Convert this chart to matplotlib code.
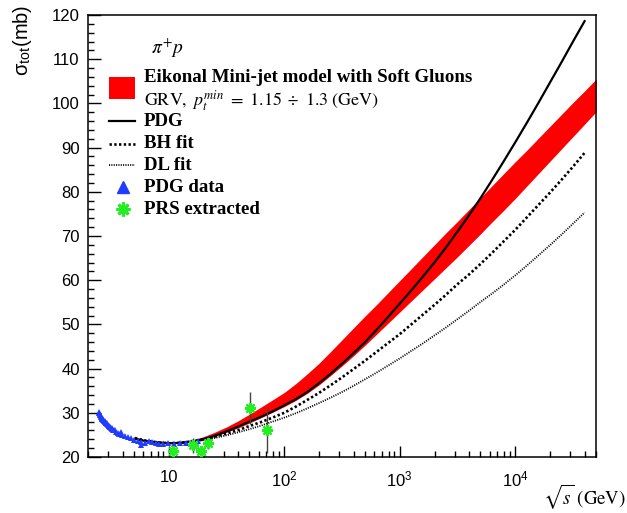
import numpy as np
import matplotlib
matplotlib.use('Agg')
import matplotlib.pyplot as plt
from matplotlib.lines import Line2D
from matplotlib.patches import Rectangle
from matplotlib.ticker import FixedLocator, NullFormatter, MultipleLocator

plt.rcParams['font.family'] = ['Liberation Sans', 'DejaVu Sans']
plt.rcParams['mathtext.fontset'] = 'stix'

# PDG fit (solid black), sqrt(s) in GeV, sigma in mb
pdg_x = [5.1, 6.3, 7.9, 10, 12.6, 15.8, 20, 25, 31.6, 40, 50, 63, 79, 100, 126, 158, 200, 251,
         316, 398, 501, 631, 794, 1000, 1259, 1585, 1995, 2512, 3162, 3981, 5012, 6310, 7943,
         10000, 12589, 15849, 19953, 25119, 31623, 39811]
pdg_y = [24.1, 23.6, 23.3, 23.1, 23.2, 23.5, 24.0, 24.8, 25.8, 26.9, 28.0, 29.1, 30.3, 31.7,
         33.1, 34.7, 36.7, 38.8, 41.1, 43.5, 46.0, 48.8, 51.7, 54.7, 57.7, 60.8, 64.0, 67.4,
         71.0, 74.7, 78.6, 82.7, 86.9, 91.2, 95.6, 100.1, 104.7, 109.3, 114.0, 118.6]

# eikonal mini-jet band (lower / upper edge)
band_x = [10, 12.6, 15.8, 20, 25, 31.6, 40, 50, 63, 79, 100, 126, 158, 200, 251, 316, 398, 501,
          631, 794, 1000, 1259, 1585, 1995, 2512, 3162, 3981, 5012, 6310, 7943, 10000, 12589,
          15849, 19953, 25119, 31623, 39811, 50119]
band_lo = [23.0, 23.2, 23.5, 24.0, 24.7, 25.6, 26.6, 27.7, 28.9, 30.1, 31.4, 32.8, 34.4, 36.3,
           38.4, 40.6, 42.9, 45.3, 47.8, 50.3, 52.8, 55.3, 57.8, 60.3, 62.8, 65.3, 67.9, 70.5,
           73.2, 75.8, 78.5, 81.3, 84.1, 86.9, 89.7, 92.5, 95.3, 98.1]
band_hi = [23.1, 23.4, 23.8, 24.6, 25.6, 26.8, 28.2, 29.7, 31.3, 32.9, 34.6, 36.6, 38.8, 41.2,
           43.8, 46.5, 49.2, 51.9, 54.5, 57.2, 59.9, 62.6, 65.3, 68.0, 70.7, 73.3, 76.0, 78.7,
           81.4, 84.1, 86.8, 89.4, 92.1, 94.8, 97.5, 100.2, 102.8, 105.5]

# BH fit (dashed)
bh_x = [5.1, 6.3, 7.9, 10, 12.6, 15.8, 20, 25, 31.6, 40, 50, 63, 79, 100, 126, 158, 200, 251,
        316, 398, 501, 631, 794, 1000, 1259, 1585, 1995, 2512, 3162, 3981, 5012, 6310, 7943,
        10000, 12589, 15849, 19953, 25119, 31623, 39811]
bh_y = [24.3, 23.7, 23.3, 23.1, 23.2, 23.5, 24.0, 24.6, 25.3, 26.1, 27.0, 27.9, 28.9, 30.0,
        31.4, 32.9, 34.5, 36.2, 38.0, 39.9, 41.8, 43.8, 45.8, 47.8, 50.0, 52.2, 54.4, 56.7,
        59.1, 61.3, 63.7, 66.2, 68.8, 71.4, 74.2, 77.0, 79.8, 82.7, 85.7, 88.8]

# DL fit (dotted)
dl_x = bh_x
dl_y = [24.2, 23.7, 23.4, 23.2, 23.2, 23.4, 23.8, 24.3, 24.9, 25.6, 26.3, 27.1, 28.0, 28.9,
        29.9, 31.0, 32.2, 33.4, 34.7, 36.1, 37.6, 39.1, 40.7, 42.3, 44.0, 45.7, 47.5, 49.3,
        51.2, 53.1, 55.1, 57.0, 59.0, 61.1, 63.3, 65.6, 67.9, 70.3, 72.8, 75.3]

# PDG data points
data_x = [2.49, 2.51, 2.53, 2.55, 2.57, 2.60, 2.62, 2.65, 2.67, 2.70, 2.72, 2.75, 2.78, 2.81, 2.84,
          2.87, 2.90, 2.94, 2.97, 3.01, 3.04, 3.08, 3.12, 3.16, 3.20, 3.25, 3.30, 3.35, 3.40, 3.50,
          3.62, 3.70, 3.84, 3.95, 4.15, 4.40, 4.70, 5.0, 5.4, 5.75, 5.8, 6.2, 6.7, 7.2, 7.7, 8.3,
          9.0, 9.8, 11.0, 12.5, 14.0, 16.0, 18.0]
data_y = [30.2, 29.9, 29.8, 29.4, 29.2, 29.0, 28.9, 28.7, 28.6, 28.5, 28.4, 28.2, 28.1, 27.9, 27.8,
          27.7, 27.6, 27.4, 27.3, 27.1, 27.0, 26.9, 26.8, 26.6, 26.5, 26.3, 26.2, 26.1, 26.0, 25.7,
          25.5, 25.3, 25.6, 25.0, 24.8, 24.5, 24.2, 23.9, 23.6, 22.7, 23.4, 23.2, 23.6, 23.3, 23.1, 23.0,
          23.0, 23.1, 23.0, 23.1, 23.2, 23.4, 23.6]

# PRS extracted points
prs_x = [10.9, 16.2, 19.0, 21.9, 50.4, 70.5]
prs_y = [21.4, 22.7, 21.4, 23.2, 31.1, 26.0]
prs_err = [1.6, 1.7, 1.0, 1.4, 3.6, 5.0]

W, H = 627, 513
fig = plt.figure(figsize=(W / 100, H / 100), dpi=100)
ax = fig.add_axes([88 / W, (H - 457) / H, 508 / W, 442 / H])

BH_LS = (0, (0.9, 0.9))
DL_LS = (0, (0.6, 0.7))

ax.fill_between(band_x, band_lo, band_hi, color='#ff0000', lw=0, zorder=2)
ax.plot(dl_x, dl_y, color='black', lw=1.3, ls=DL_LS, zorder=3)
ax.plot(bh_x, bh_y, color='black', lw=1.9, ls=BH_LS, zorder=3)
ax.plot(pdg_x, pdg_y, color='black', lw=1.6, zorder=4)
ax.plot(data_x, data_y, ls='none', marker='^', ms=4, color='#1f3cff', mew=0, zorder=5)
ax.errorbar(prs_x, prs_y, yerr=prs_err, fmt='none', ecolor='#444444', elinewidth=1.0, zorder=5)
ax.plot(prs_x, prs_y, ls='none', marker=(8, 2, 0), ms=8, mew=1.6, color='#22ee22', zorder=6)

ax.set_xscale('log')
ax.set_xlim(2, 5e4)
ax.set_ylim(20, 120)

ax.xaxis.set_major_locator(FixedLocator([10, 100, 1000, 10000]))
ax.set_xticklabels(['10', r'$\mathregular{10^{2}}$', r'$\mathregular{10^{3}}$', r'$\mathregular{10^{4}}$'])
minor = [m * 10 ** e for e in range(0, 5) for m in range(2, 10) if 2 <= m * 10 ** e <= 5e4]
ax.xaxis.set_minor_locator(FixedLocator(minor))
ax.xaxis.set_minor_formatter(NullFormatter())
ax.yaxis.set_major_locator(MultipleLocator(10))
ax.yaxis.set_minor_locator(MultipleLocator(2))

ax.tick_params(which='both', direction='in', top=False, right=False, labelsize=12, width=1.0)
ax.tick_params(axis='x', which='major', length=8, pad=9)
ax.tick_params(axis='y', which='major', length=9, pad=6)
ax.tick_params(which='minor', length=4.5)
for s in ax.spines.values():
    s.set_linewidth(1.1)

fig.text(22 / W, 1 - 5 / H, r'σ$_{\mathregular{tot}}$(mb)', rotation=90, ha='center', va='top', fontsize=14.5)
fig.text(1 - 1 / W, 1 - 497 / H, r'$\sqrt{s}\ \mathrm{(GeV)}$', ha='right', va='center', fontsize=13.5)


def px(x, y):
    return ((x - 88) / 508, (457 - y) / 442)


serif_b = dict(family='Liberation Serif', weight='bold', fontsize=13.6, va='center', ha='left',
               transform=ax.transAxes)
ax.text(*px(151, 48), r'$\pi^{+}p$', fontsize=14, va='center', ha='left', transform=ax.transAxes)
ax.add_patch(Rectangle(px(109, 99), 26 / 508, 22 / 442, transform=ax.transAxes, color='#ff0000', lw=0))
ax.text(*px(144, 78), 'Eikonal Mini-jet model with Soft Gluons', **serif_b)
ax.text(*px(144, 101), r'$\mathrm{GRV,}\ p_t^{min}\ =\ 1.15\ \div\ 1.3\ \mathrm{(GeV)}$',
        fontsize=13, va='center', ha='left', transform=ax.transAxes)

rows = [(121, 'PDG', dict(ls='-', lw=1.6)),
        (144, 'BH fit', dict(ls=BH_LS, lw=1.9)),
        (165, 'DL fit', dict(ls=DL_LS, lw=1.3))]
for y, label, st in rows:
    (x0, yy), (x1, _) = px(109, y), px(135, y)
    ax.add_line(Line2D([x0, x1], [yy, yy], color='black', transform=ax.transAxes, **st))
    ax.text(*px(144, y), label, **serif_b)

ax.plot(*px(123, 187), marker='^', ms=9, color='#1f3cff', transform=ax.transAxes)
ax.text(*px(144, 187), 'PDG data', **serif_b)
ax.plot(*px(123, 209), marker=(8, 2, 0), ms=10, mew=2, color='#22ee22', transform=ax.transAxes)
ax.text(*px(144, 209), 'PRS extracted', **serif_b)

fig.savefig('out.png', dpi=100)
